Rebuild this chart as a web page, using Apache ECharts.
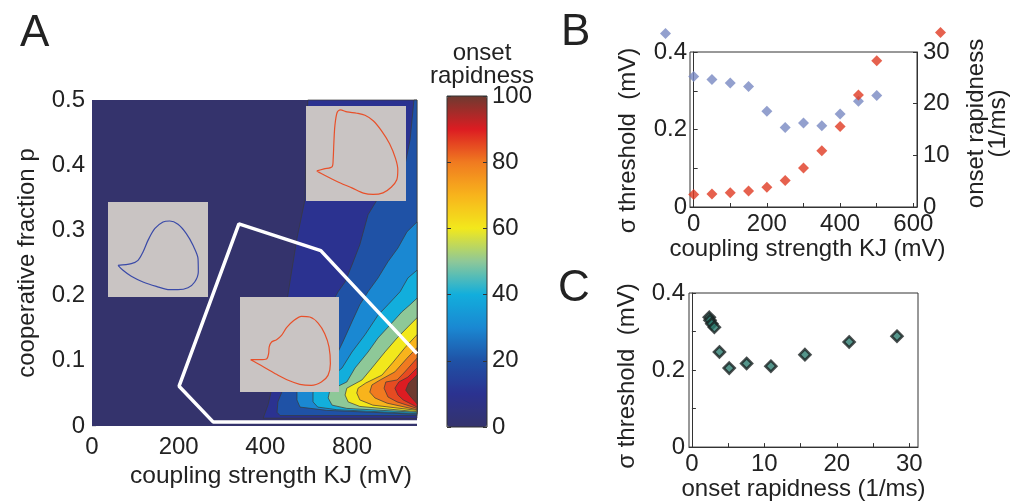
<!DOCTYPE html>
<html>
<head>
<meta charset="utf-8">
<script src="https://cdn.jsdelivr.net/npm/echarts@6/dist/echarts.min.js"></script>
<style>
  html, body { margin: 0; padding: 0; background: #fff; }
  #main { width: 1011px; height: 502px; }
</style>
</head>
<body>
<div id="main"></div>
<script>
// ---- Panel A: onset rapidness vs coupling strength and cooperative fraction ----
var aTickValues = [0, 200, 400, 600];
var aTickLabels = ['0', '200', '400', '800'];   // as printed on the figure

// filled contour levels (onset rapidness) and their outlines, [K (mV), p]
var levelValues = [0, 10, 20, 30, 40, 50, 60, 70, 80, 85, 90, 100];
var levelShapes = [
  [[0, 0], [750, 0], [750, 0.5], [0, 0.5]],
  [[498, 0.5], [494, 0.423], [491.5, 0.347], [473, 0.288], [452, 0.201], [427, 0.0905], [406, 0.032], [395, 0.012], [750, 0.012], [750, 0.5]],
  [[743, 0.5], [734, 0.439], [720, 0.393], [688, 0.37], [658, 0.347], [637, 0.324], [618, 0.278], [600, 0.247], [584, 0.221], [568, 0.206], [438, 0.052], [429, 0.037], [427, 0.021], [434, 0.016], [750, 0.016], [750, 0.5]],
  [[750, 0.313], [727, 0.298], [706, 0.273], [683, 0.252], [660, 0.227], [637, 0.206], [618, 0.186], [600, 0.160], [579, 0.129], [568, 0.114], [473, 0.052], [473, 0.040], [480, 0.029], [542, 0.024], [750, 0.018]],
  [[750, 0.239], [729, 0.227], [711, 0.206], [683, 0.186], [660, 0.170], [630, 0.140], [600, 0.1135], [577, 0.089], [510, 0.052], [510, 0.037], [521, 0.029], [565, 0.025], [750, 0.019]],
  [[750, 0.196], [734, 0.186], [715, 0.175], [692, 0.158], [660, 0.135], [637, 0.1135], [607, 0.089], [588, 0.0675], [549, 0.055], [545, 0.043], [554, 0.032], [588, 0.027], [750, 0.021]],
  [[750, 0.166], [729, 0.152], [704, 0.135], [676, 0.1135], [646, 0.089], [623, 0.0706], [588, 0.058], [584, 0.0475], [591, 0.037], [618, 0.030], [750, 0.022]],
  [[750, 0.14], [722, 0.12], [695, 0.098], [669, 0.078], [632, 0.066], [614, 0.058], [611, 0.0506], [618, 0.040], [648, 0.032], [750, 0.024]],
  [[750, 0.12], [727, 0.104], [699, 0.083], [665, 0.0706], [646, 0.063], [641, 0.052], [653, 0.043], [681, 0.035], [750, 0.025]],
  [[750, 0.104], [722, 0.083], [704, 0.0706], [678, 0.0675], [674, 0.058], [683, 0.0445], [704, 0.037], [750, 0.027]],
  [[750, 0.089], [729, 0.075], [708, 0.0675], [699, 0.058], [706, 0.0475], [718, 0.040], [750, 0.029]],
  [[750, 0.078], [731, 0.066], [724, 0.055], [734, 0.046], [750, 0.034]]
];

// white boundary line
var borderK = [750, 280, 201, 339, 528, 750];
var borderP = [0.006, 0.006, 0.061, 0.310, 0.269, 0.111];

// inset trajectories, in inset fractions [x, y]
var loopLeft = [[0.10, 0.333], [0.233, 0.351], [0.30, 0.386], [0.35, 0.474], [0.40, 0.596], [0.467, 0.719], [0.55, 0.789], [0.617, 0.80], [0.70, 0.765], [0.783, 0.667], [0.85, 0.544], [0.90, 0.404], [0.903, 0.263], [0.867, 0.158], [0.80, 0.098], [0.70, 0.077], [0.617, 0.077], [0.483, 0.112], [0.35, 0.158], [0.233, 0.218], [0.15, 0.281], [0.10, 0.333]];
var loopTop = [[0.108, 0.317], [0.180, 0.338], [0.262, 0.362], [0.272, 0.448], [0.279, 0.621], [0.289, 0.793], [0.311, 0.931], [0.344, 0.959], [0.410, 0.938], [0.508, 0.924], [0.590, 0.903], [0.672, 0.845], [0.754, 0.741], [0.836, 0.603], [0.895, 0.448], [0.918, 0.328], [0.908, 0.224], [0.852, 0.145], [0.770, 0.086], [0.672, 0.069], [0.574, 0.083], [0.459, 0.138], [0.344, 0.190], [0.230, 0.248], [0.148, 0.293], [0.108, 0.317]];
var loopMid = [[0.107, 0.340], [0.201, 0.340], [0.268, 0.347], [0.289, 0.404], [0.295, 0.474], [0.319, 0.526], [0.369, 0.551], [0.419, 0.596], [0.470, 0.677], [0.537, 0.747], [0.621, 0.796], [0.705, 0.789], [0.789, 0.726], [0.856, 0.614], [0.899, 0.474], [0.913, 0.298], [0.889, 0.175], [0.822, 0.105], [0.721, 0.070], [0.604, 0.081], [0.487, 0.123], [0.369, 0.186], [0.252, 0.256], [0.168, 0.305], [0.107, 0.340]];

// colour bar
var cbColors = ['#34336c', '#2b3290', '#1f52a6', '#1a88d2', '#12aedc', '#8ec898', '#f2e81c', '#f8b41c', '#f07a20', '#dc1c22', '#6e3a30'];

// ---- Panels B and C ----
var couplingK = [0, 50, 100, 150, 200, 250, 300, 350, 400, 450, 500];
var sigmaThreshold = [0.337, 0.329, 0.320, 0.311, 0.247, 0.205, 0.217, 0.210, 0.240, 0.273, 0.288];
var onsetRapidness = [2.4, 2.5, 2.75, 3.1, 3.8, 5.15, 7.55, 10.9, 15.6, 21.7, 28.3];
var bTicksK = [0, 200, 400, 600];
var sigmaTicks = [0, 0.2, 0.4];
var rapidTicks = [0, 10, 20, 30];

var FONT = 'Liberation Sans';
var txt = { color: '#222', fontSize: 24, fontFamily: FONT };

function zip(a, b) {
  return a.map(function (v, i) { return [v, b[i]]; });
}

function hiddenAxis() {
  return { type: 'value', min: 0, max: 1, show: false };
}

function renderLevel(params, api) {
  var idx = api.value(0);
  var pts = levelShapes[idx].map(function (pt) { return api.coord(pt); });
  return {
    type: 'polygon',
    shape: { points: pts },
    style: { fill: api.visual('color'), stroke: idx === 0 ? null : '#3a3a3a', lineWidth: 0.7 }
  };
}

function renderInsetBg(params) {
  var cs = params.coordSys;
  return {
    type: 'rect',
    shape: { x: cs.x, y: cs.y, width: cs.width, height: cs.height },
    style: { fill: '#c9c4c3' }
  };
}

var chart = echarts.init(document.getElementById('main'));

var option = {
  backgroundColor: '#fff',
  animation: false,
  textStyle: { fontFamily: FONT },
  graphic: [
    { type: 'text', left: 20, top: 12, style: { text: 'A', font: '44px "Liberation Sans"', fill: '#222' } },
    { type: 'text', left: 561, top: 11, style: { text: 'B', font: '44px "Liberation Sans"', fill: '#222' } },
    { type: 'text', left: 558, top: 267, style: { text: 'C', font: '44px "Liberation Sans"', fill: '#222' } },
    { type: 'text', x: 482, y: 42, style: { text: 'onset\nrapidness', font: '24px "Liberation Sans"', fill: '#222', align: 'center', lineHeight: 23 } }
  ],
  visualMap: {
    type: 'continuous',
    min: 0, max: 100,
    seriesIndex: [0],
    dimension: 1,
    left: 447, top: 96,
    itemWidth: 40, itemHeight: 331,
    padding: 0,
    calculable: false,
    hoverLink: false,
    inRange: { color: cbColors }
  },
  legend: [
    { data: ['σ threshold'], left: 660, top: 28, padding: 0, itemWidth: 11, itemHeight: 11, icon: 'diamond', selectedMode: false, formatter: function () { return ''; } },
    { data: ['onset rapidness'], left: 935, top: 27, padding: 0, itemWidth: 11, itemHeight: 11, icon: 'diamond', selectedMode: false, formatter: function () { return ''; } }
  ],
  grid: [
    { left: 92, top: 100, width: 325, height: 326 },
    { left: 108, top: 202, width: 100, height: 95 },
    { left: 306, top: 106, width: 100, height: 95 },
    { left: 240, top: 297, width: 99, height: 95 },
    { left: 447, top: 96, width: 40, height: 331, show: true, z: 10, borderColor: '#333', borderWidth: 1, backgroundColor: 'transparent' },
    { left: 690, top: 52, width: 230, height: 155, show: true, borderColor: '#333', borderWidth: 1 },
    { left: 689, top: 293, width: 229, height: 155, show: true, borderColor: '#333', borderWidth: 1 }
  ],
  xAxis: [
    {
      gridIndex: 0, type: 'value', min: 0, max: 750,
      name: 'coupling strength KJ (mV)', nameLocation: 'middle', nameGap: 34,
      nameTextStyle: Object.assign({}, txt, { fontSize: 24.5, padding: [0, 0, 0, 33] }),
      axisLine: { show: false },
      axisTick: { inside: true, length: 4, customValues: aTickValues, lineStyle: { color: '#ddd' } },
      axisLabel: Object.assign({}, txt, { margin: 9, customValues: aTickValues,
        formatter: function (v) { return aTickLabels[aTickValues.indexOf(v)]; } }),
      splitLine: { show: false }
    },
    Object.assign({ gridIndex: 1 }, hiddenAxis()),
    Object.assign({ gridIndex: 2 }, hiddenAxis()),
    Object.assign({ gridIndex: 3 }, hiddenAxis()),
    Object.assign({ gridIndex: 4 }, hiddenAxis()),
    {
      gridIndex: 5, type: 'value', min: -10, max: 610,
      name: 'coupling strength KJ (mV)', nameLocation: 'middle', nameGap: 24,
      nameTextStyle: Object.assign({}, txt, { padding: [0, 0, 0, 8] }),
      axisLine: { lineStyle: { color: '#333' } },
      axisTick: { inside: true, length: 4, customValues: [0, 100, 200, 300, 400, 500, 600], lineStyle: { color: '#333' } },
      axisLabel: Object.assign({}, txt, { margin: 5, customValues: bTicksK }),
      splitLine: { show: false }
    },
    {
      gridIndex: 6, type: 'value', min: -0.4, max: 31.2,
      name: 'onset rapidness (1/ms)', nameLocation: 'middle', nameGap: 23,
      nameTextStyle: txt,
      axisLine: { lineStyle: { color: '#333' } },
      axisTick: { inside: true, length: 4, customValues: [0, 5, 10, 15, 20, 25, 30], lineStyle: { color: '#333' } },
      axisLabel: Object.assign({}, txt, { margin: 5, customValues: rapidTicks }),
      splitLine: { show: false }
    }
  ],
  yAxis: [
    {
      gridIndex: 0, type: 'value', min: 0, max: 0.5, interval: 0.1,
      name: 'cooperative fraction p', nameLocation: 'middle', nameGap: 53,
      nameTextStyle: txt,
      axisLine: { show: false },
      axisTick: { inside: true, length: 4, lineStyle: { color: '#ddd' } },
      axisLabel: Object.assign({}, txt, { margin: 7,
        formatter: function (v) { return v === 0 ? '0' : v.toFixed(1); } }),
      splitLine: { show: false }
    },
    Object.assign({ gridIndex: 1 }, hiddenAxis()),
    Object.assign({ gridIndex: 2 }, hiddenAxis()),
    Object.assign({ gridIndex: 3 }, hiddenAxis()),
    {
      gridIndex: 4, type: 'value', min: 0, max: 100, interval: 20, position: 'left', z: 10,
      axisLine: { show: false },
      axisTick: { inside: true, length: 4, lineStyle: { color: '#333' } },
      axisLabel: { show: false },
      splitLine: { show: false }
    },
    {
      gridIndex: 4, type: 'value', min: 0, max: 100, interval: 20, position: 'right', z: 10,
      axisLine: { show: false },
      axisTick: { inside: true, length: 4, lineStyle: { color: '#333' } },
      axisLabel: Object.assign({}, txt, { margin: 5 }),
      splitLine: { show: false }
    },
    {
      gridIndex: 5, type: 'value', min: 0, max: 0.4, position: 'left',
      name: 'σ threshold  (mV)', nameLocation: 'middle', nameGap: 50,
      nameTextStyle: Object.assign({}, txt, { padding: [0, 22, 0, 0] }),
      axisLine: { lineStyle: { color: '#333' } },
      axisTick: { inside: true, length: 4, customValues: [0, 0.1, 0.2, 0.3, 0.4], lineStyle: { color: '#333' } },
      axisLabel: Object.assign({}, txt, { margin: 3, customValues: sigmaTicks,
        formatter: function (v) { return v === 0 ? '0' : v.toFixed(1); } }),
      splitLine: { show: false }
    },
    {
      gridIndex: 5, type: 'value', min: 0, max: 30, position: 'right',
      name: 'onset rapidness\n(1/ms)', nameLocation: 'middle', nameGap: 48,
      nameTextStyle: Object.assign({}, txt, { lineHeight: 22, padding: [0, 0, 0, 12] }),
      axisLine: { lineStyle: { color: '#333' } },
      axisTick: { inside: true, length: 4, customValues: [0, 10, 20, 30], lineStyle: { color: '#333' } },
      axisLabel: Object.assign({}, txt, { margin: 6, customValues: rapidTicks }),
      splitLine: { show: false }
    },
    {
      gridIndex: 6, type: 'value', min: 0, max: 0.4,
      name: 'σ threshold  (mV)', nameLocation: 'middle', nameGap: 50,
      nameTextStyle: Object.assign({}, txt, { padding: [0, 12, 0, 0] }),
      axisLine: { lineStyle: { color: '#333' } },
      axisTick: { inside: true, length: 4, customValues: [0, 0.1, 0.2, 0.3, 0.4], lineStyle: { color: '#333' } },
      axisLabel: Object.assign({}, txt, { margin: 4, customValues: sigmaTicks,
        formatter: function (v) { return v === 0 ? '0' : v.toFixed(1); } }),
      splitLine: { show: false }
    }
  ],
  series: [
    {
      type: 'custom', xAxisIndex: 0, yAxisIndex: 0, z: 1,
      renderItem: renderLevel,
      data: levelValues.map(function (v, i) { return [i, v]; })
    },
    {
      type: 'line', xAxisIndex: 0, yAxisIndex: 0, z: 3,
      data: zip(borderK, borderP), symbol: 'none',
      lineStyle: { color: '#fff', width: 3.5 }
    },
    { type: 'custom', xAxisIndex: 1, yAxisIndex: 1, z: 4, renderItem: renderInsetBg, data: [[0.5, 0.5]] },
    { type: 'custom', xAxisIndex: 2, yAxisIndex: 2, z: 4, renderItem: renderInsetBg, data: [[0.5, 0.5]] },
    { type: 'custom', xAxisIndex: 3, yAxisIndex: 3, z: 4, renderItem: renderInsetBg, data: [[0.5, 0.5]] },
    { type: 'line', xAxisIndex: 1, yAxisIndex: 1, z: 5, data: loopLeft, symbol: 'none', smooth: 0.3, lineStyle: { color: '#3a4aa8', width: 1.2 } },
    { type: 'line', xAxisIndex: 2, yAxisIndex: 2, z: 5, data: loopTop, symbol: 'none', smooth: 0.3, lineStyle: { color: '#e8502a', width: 1.2 } },
    { type: 'line', xAxisIndex: 3, yAxisIndex: 3, z: 5, data: loopMid, symbol: 'none', smooth: 0.3, lineStyle: { color: '#e8502a', width: 1.2 } },
    {
      name: 'σ threshold', type: 'scatter', xAxisIndex: 5, yAxisIndex: 6,
      data: zip(couplingK, sigmaThreshold), symbol: 'diamond', symbolSize: 11,
      itemStyle: { color: '#7888c2' }
    },
    {
      name: 'onset rapidness', type: 'scatter', xAxisIndex: 5, yAxisIndex: 7,
      data: zip(couplingK, onsetRapidness), symbol: 'diamond', symbolSize: 11,
      itemStyle: { color: '#e03a22' }
    },
    {
      type: 'scatter', xAxisIndex: 6, yAxisIndex: 8,
      data: zip(onsetRapidness, sigmaThreshold), symbol: 'diamond', symbolSize: 11,
      itemStyle: { color: '#2a7a6e', borderColor: '#1a2222', borderWidth: 2.5 }
    }
  ]
};

chart.setOption(option);
</script>
</body>
</html>
